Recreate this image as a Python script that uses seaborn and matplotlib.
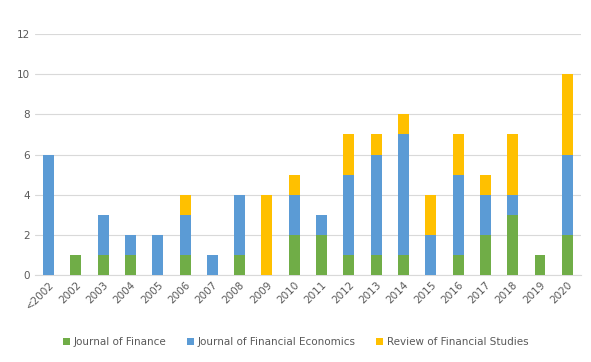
import pandas as pd
import numpy as np
import matplotlib.pyplot as plt
import seaborn as sns
from matplotlib.patches import Patch

# DATA
years = ["<2002", "2002", "2003", "2004", "2005", "2006", "2007", "2008", "2009", "2010",
         "2011", "2012", "2013", "2014", "2015", "2016", "2017", "2018", "2019", "2020"]
jof = [0, 1, 1, 1, 0, 1, 0, 1, 0, 2, 2, 1, 1, 1, 0, 1, 2, 3, 1, 2]
jfe = [6, 0, 2, 1, 2, 2, 1, 3, 0, 2, 1, 4, 5, 6, 2, 4, 2, 1, 0, 4]
rfs = [0, 0, 0, 0, 0, 1, 0, 0, 4, 1, 0, 2, 1, 1, 2, 2, 1, 3, 0, 4]
series = ["Journal of Finance", "Journal of Financial Economics", "Review of Financial Studies"]
colors = ["#70AD47", "#5B9BD5", "#FFC000"]

df = pd.DataFrame({"year": years, "jof": jof, "jfe": jfe, "rfs": rfs})
df["top"] = df["jof"] + df["jfe"] + df["rfs"]
df["mid"] = df["jof"] + df["jfe"]

sns.set_style("white")
plt.rcParams["font.family"] = ["DejaVu Sans"]
fig = plt.figure(figsize=(5.91, 3.62), dpi=100)
ax = fig.add_axes([0.059, 0.240, 0.924, 0.666])

# stacked bars by overdrawing cumulative totals
for col, c in zip(["top", "mid", "jof"], colors[::-1]):
    sns.barplot(data=df, x="year", y=col, color=c, width=0.4, saturation=1,
                linewidth=0, ax=ax, zorder=3)

ax.set_ylim(0, 12)
ax.set_yticks(np.arange(0, 13, 2))
ax.set_xlim(-0.5, len(years) - 0.5)
ax.yaxis.grid(True, color="#D9D9D9", linewidth=0.8, zorder=0)
ax.set_axisbelow(True)
for s in ["top", "right", "left"]:
    ax.spines[s].set_visible(False)
ax.spines["bottom"].set_color("#D9D9D9")
ax.set_xlabel("")
ax.set_ylabel("")
ax.tick_params(axis="both", length=0, colors="#595959", labelsize=7.5)
plt.setp(ax.get_xticklabels(), rotation=45, ha="right", rotation_mode="anchor")

handles = [Patch(facecolor=c, edgecolor="none") for c in colors]
fig.legend(handles, series, loc="center", bbox_to_anchor=(0.5, 0.055), ncol=3, frameon=False,
           fontsize=7.5, labelcolor="#595959", handlelength=0.7, handleheight=0.7,
           handletextpad=0.3, columnspacing=2.0)

fig.savefig("out.png", dpi=100)
